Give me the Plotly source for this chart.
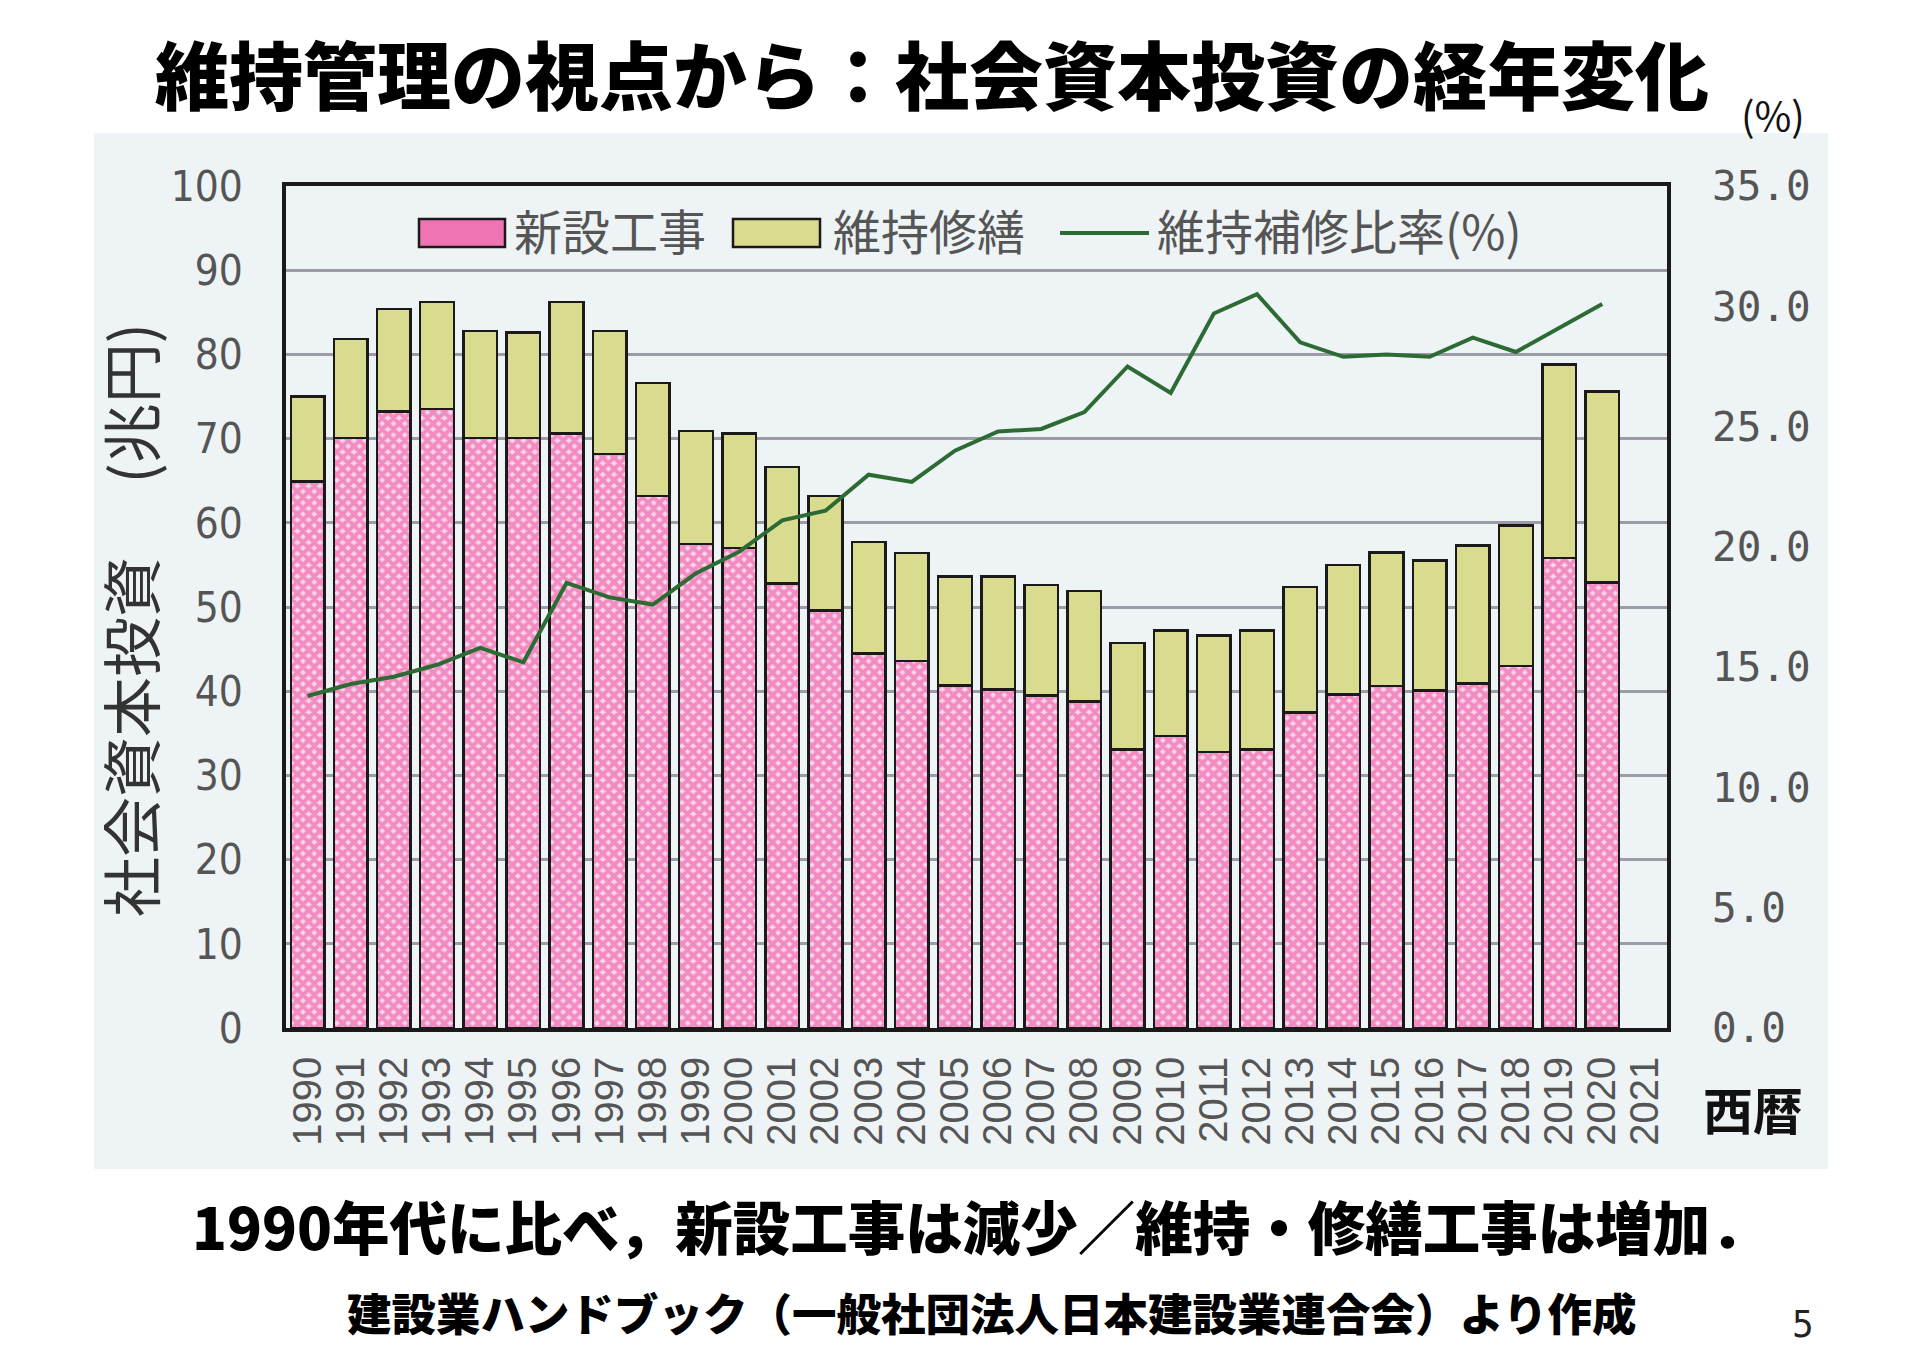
import plotly.graph_objects as go

# ---------------- data ----------------
years = [str(y) for y in range(1990, 2022)]          # 32 categories (2021 has no data)
data_years = [str(y) for y in range(1990, 2021)]     # 31 years with values

new_construction = [64.9, 70.1, 73.2, 73.5, 70.1, 70.1, 70.6, 68.2, 63.2, 57.5,
                    57.0, 52.8, 49.6, 44.5, 43.6, 40.7, 40.2, 39.5, 38.8, 33.1,
                    34.7, 32.8, 33.1, 37.5, 39.6, 40.6, 40.1, 40.9, 43.0, 55.8, 52.9]
maintenance = [10.1, 11.7, 12.2, 12.7, 12.7, 12.5, 15.6, 14.6, 13.4, 13.4,
               13.6, 13.8, 13.6, 13.2, 12.8, 12.9, 13.4, 13.1, 13.1, 12.6,
               12.5, 13.8, 14.1, 14.9, 15.4, 15.9, 15.4, 16.4, 16.7, 23.0, 22.7]
maint_ratio = [13.8, 14.3, 14.6, 15.1, 15.8, 15.2, 18.5, 17.9, 17.6, 18.9,
               19.8, 21.1, 21.5, 23.0, 22.7, 24.0, 24.8, 24.9, 25.6, 27.5,
               26.4, 29.7, 30.5, 28.5, 27.9, 28.0, 27.9, 28.7, 28.1, 29.1, 30.1]

left_ticks = list(range(0, 101, 10))
right_ticks = [0, 5, 10, 15, 20, 25, 30, 35]

legend_labels = ["新設工事", "維持修繕", "維持補修比率(%)"]

# ---------------- geometry helpers ----------------
# The page body has an 8px margin, so the figure is drawn 8px right/down.
OFF = 8
W, H = 1920 - 2 * OFF, 1360 - 2 * OFF
# plot frame in screen pixels
PL, PR, PT, PB = 286, 1667, 186, 1028
L, T = PL - OFF, PT - OFF
R, B = W - (PR - OFF), H - (PB - OFF)


def px(x):
    return (x - PL) / (PR - PL)


def py(y):
    return (PB - y) / (PB - PT)


CJK = "Noto Sans CJK JP, Noto Sans CJK SC, sans-serif"
NARROW = "Liberation Sans Narrow, DejaVu Sans Condensed, Liberation Sans, sans-serif"

PINK_FG = "#e9409a"
PINK_BG = "#fbd6e9"
KHAKI = "#d9db8e"
GREEN = "#2d6b35"
OUTLINE = "#1a1a1a"

fig = go.Figure()

fig.add_trace(go.Bar(
    x=data_years, y=new_construction, name=legend_labels[0],
    marker=dict(color=PINK_BG, line=dict(color=OUTLINE, width=2.5),
                pattern=dict(shape="x", fgcolor=PINK_FG, bgcolor=PINK_BG,
                             size=8, solidity=0.75, fillmode="overlay")),
    showlegend=False,
))
fig.add_trace(go.Bar(
    x=data_years, y=maintenance, name=legend_labels[1],
    marker=dict(color=KHAKI, line=dict(color=OUTLINE, width=2.5)),
    showlegend=False,
))
fig.add_trace(go.Scatter(
    x=data_years, y=maint_ratio, name=legend_labels[2], yaxis="y2",
    mode="lines", line=dict(color=GREEN, width=4),
    showlegend=False,
))

shapes = [
    # light scanned backdrop behind the chart
    dict(type="rect", xref="paper", yref="paper", layer="below",
         x0=px(94), x1=px(1828), y0=py(1169), y1=py(133),
         fillcolor="#eef3f5", line=dict(width=0)),
    # legend swatches
    dict(type="rect", xref="paper", yref="paper",
         x0=px(419), x1=px(505), y0=py(247), y1=py(219),
         fillcolor="#ef74b3", line=dict(color=OUTLINE, width=2.5)),
    dict(type="rect", xref="paper", yref="paper",
         x0=px(733), x1=px(820), y0=py(247), y1=py(219),
         fillcolor=KHAKI, line=dict(color=OUTLINE, width=2.5)),
    dict(type="line", xref="paper", yref="paper",
         x0=px(1060), x1=px(1149), y0=py(233), y1=py(233),
         line=dict(color=GREEN, width=4)),
]

annotations = [
    dict(text="維持管理の視点から：社会資本投資の経年変化", x=px(932), y=py(71),
         font=dict(family=CJK, size=74, color="#000000", weight=900)),
    dict(text="(%)", x=px(1773), y=py(114),
         font=dict(family=CJK, size=40, color="#111111")),
    dict(text="社会資本投資　 (兆円)", x=px(128), y=py(620), textangle=-90,
         font=dict(family=CJK, size=60, color="#333333")),
    dict(text="西暦", x=px(1753), y=py(1108),
         font=dict(family=CJK, size=50, color="#111111", weight=700)),
    dict(text=legend_labels[0], x=px(512), y=py(229), xanchor="left",
         font=dict(family=CJK, size=48, color="#555555")),
    dict(text=legend_labels[1], x=px(831), y=py(229), xanchor="left",
         font=dict(family=CJK, size=48, color="#555555")),
    dict(text=legend_labels[2], x=px(1155), y=py(229), xanchor="left",
         font=dict(family=CJK, size=48, color="#555555")),
    dict(text="1990年代に比べ，新設工事は減少／維持・修繕工事は増加．", x=px(980), y=py(1225),
         font=dict(family=CJK, size=57.5, color="#000000", weight=900)),
    dict(text="建設業ハンドブック（一般社団法人日本建設業連合会）より作成", x=px(992), y=py(1311),
         font=dict(family=CJK, size=44.5, color="#000000", weight=900)),
    dict(text="5", x=px(1803), y=py(1324),
         font=dict(family=NARROW, size=38, color="#222222")),
]
for a in annotations:
    a.setdefault("xref", "paper")
    a.setdefault("yref", "paper")
    a.setdefault("showarrow", False)
    a.setdefault("xanchor", "center")
    a.setdefault("yanchor", "middle")

fig.update_layout(
    width=W, height=H,
    margin=dict(l=L, r=R, t=T, b=B, pad=0),
    paper_bgcolor="#ffffff",
    plot_bgcolor="#f7fafa",
    barmode="stack",
    bargap=0.22,
    showlegend=False,
    shapes=shapes,
    annotations=annotations,
    xaxis=dict(
        type="category", categoryorder="array", categoryarray=years,
        tickmode="array", tickvals=years, ticktext=years,
        range=[-0.5, len(years) - 0.5],
        tickangle=-90, ticks="", showgrid=False, zeroline=False,
        showline=True, mirror=True, linecolor=OUTLINE, linewidth=3.5,
        tickfont=dict(family="Liberation Sans, Arial, sans-serif", size=40, color="#555555"),
        ticklabelstandoff=9,
    ),
    yaxis=dict(
        range=[0, 100], tickmode="array", tickvals=left_ticks,
        showgrid=True, gridcolor="#9c9ca6", gridwidth=3,
        zeroline=False, ticks="",
        showline=True, mirror=True, linecolor=OUTLINE, linewidth=3.5,
        tickfont=dict(family=NARROW, size=42, color="#555555"),
        ticklabelstandoff=31,
    ),
    yaxis2=dict(
        overlaying="y", side="right", range=[0, 35],
        tickmode="array", tickvals=right_ticks, tickformat=".1f",
        showgrid=False, zeroline=False, showline=False, ticks="",
        tickfont=dict(family="DejaVu Sans Mono, Liberation Mono, monospace", size=41, color="#555555"),
        ticklabelstandoff=44,
    ),
)

fig.write_html("out.html")
